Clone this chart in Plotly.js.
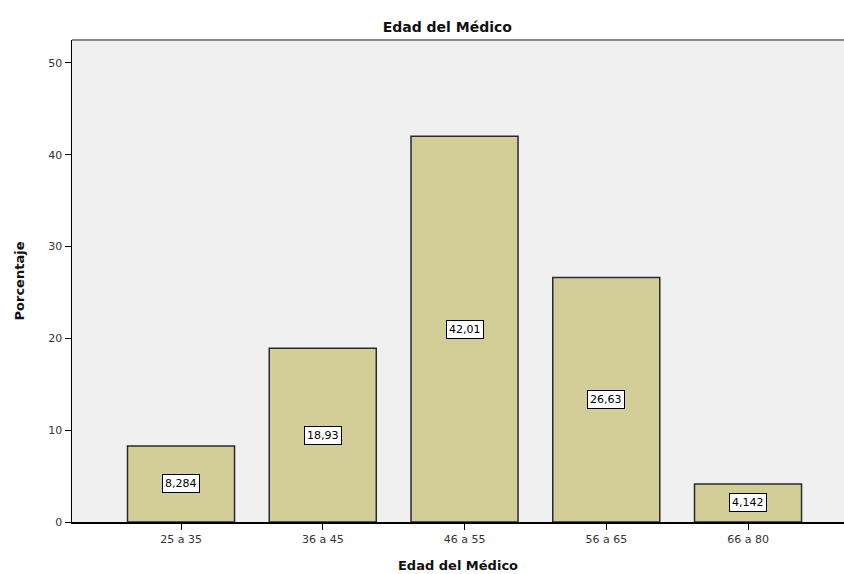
<!DOCTYPE html>
<html>
<head>
<meta charset="utf-8">
<script src="https://cdn.plot.ly/plotly-3.0.1.min.js"></script>
<style>html,body{margin:0;padding:0;background:#fff;}#chart{width:844px;height:574px;}</style>
</head>
<body>
<div id="chart"></div>
<script>
var categories = ["25 a 35", "36 a 45", "46 a 55", "56 a 65", "66 a 80"];
var percentages = [8.284, 18.93, 42.01, 26.63, 4.142];
var yTicks = [0, 10, 20, 30, 40, 50];

var idx = categories.map(function (c, i) { return i; });
var labelTexts = percentages.map(function (v) { return v.toPrecision(4).replace('.', ','); });
var FONT = 'DejaVu Sans, Verdana, sans-serif';

var trace = {
  type: 'bar',
  x: idx,
  y: percentages,
  width: 0.755,
  marker: { color: 'rgb(211,206,151)', line: { color: '#2a2a2a', width: 1.5 } },
  hoverinfo: 'none'
};

var annotations = percentages.map(function (v, i) {
  return {
    x: i, y: v / 2, xref: 'x', yref: 'y',
    text: labelTexts[i], showarrow: false,
    bgcolor: '#ffffff', bordercolor: '#000000', borderwidth: 1, borderpad: 2,
    font: { family: FONT, size: 11, color: '#000' }
  };
});

var layout = {
  width: 844, height: 574,
  margin: { l: 72, r: 0, t: 40, b: 52 },
  paper_bgcolor: '#ffffff',
  plot_bgcolor: '#f0f0f0',
  showlegend: false,
  font: { family: FONT, size: 11, color: '#222' },
  title: { text: '<b>Edad del Médico</b>', x: 0.53, xanchor: 'center', y: 0.953, yanchor: 'middle',
           font: { size: 14, color: '#111' } },
  xaxis: {
    type: 'linear',
    range: [-0.769, 4.677],
    tickvals: idx, ticktext: categories,
    ticks: 'outside', ticklen: 6, tickcolor: '#000', tickwidth: 1,
    showline: true, linecolor: '#000', linewidth: 1.5,
    showgrid: false, zeroline: false,
    tickfont: { size: 11, color: '#333' },
    title: { text: '<b>Edad del Médico</b>', font: { size: 13, color: '#111' }, standoff: 16 }
  },
  yaxis: {
    range: [0, 52.5],
    tickvals: yTicks,
    ticks: 'outside', ticklen: 6, tickcolor: '#000', tickwidth: 1,
    showline: true, linecolor: '#000', linewidth: 1.5,
    showgrid: false, zeroline: false,
    tickfont: { size: 11, color: '#333' },
    title: { text: '<b>Porcentaje</b>', font: { size: 13, color: '#111' }, standoff: 20 }
  },
  shapes: [
    { type: 'line', xref: 'paper', yref: 'paper', x0: 0, x1: 1, y0: 1, y1: 1,
      line: { color: '#8a8a8a', width: 2 } }
  ],
  annotations: annotations
};

Plotly.newPlot('chart', [trace], layout, { staticPlot: true, displayModeBar: false });
</script>
</body>
</html>
